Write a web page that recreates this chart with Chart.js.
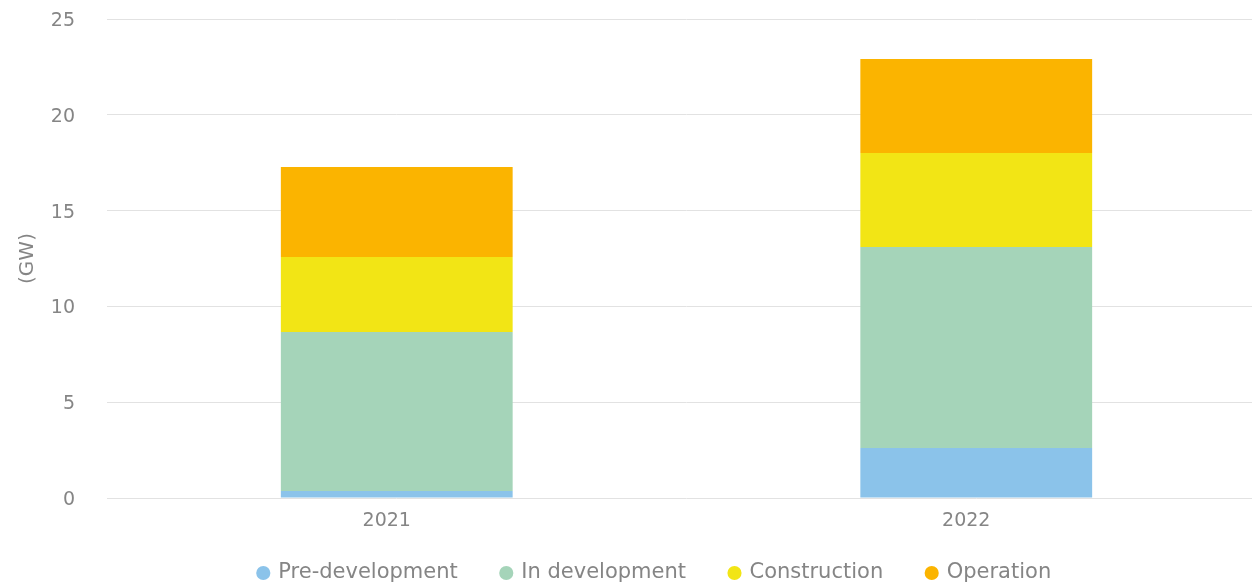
<!DOCTYPE html>
<html>
<head>
<meta charset="utf-8">
<script src="https://cdn.jsdelivr.net/npm/chart.js@4"></script>
<style>
  html, body { margin: 0; padding: 0; background: #fff; overflow: hidden; }
  #wrap { width: 1266px; height: 585px; }
</style>
</head>
<body>
<div id="wrap"><canvas id="g1"></canvas></div>
<script>
var years = ["2021", "2022"];
var preDevelopment = [0.37, 2.61];
var inDevelopment = [8.29, 10.49];
var construction = [3.92, 4.9];
var operation = [4.69, 4.91];

var grey = "#858585";
var fontFamily = "'DejaVu Sans', sans-serif";

// legend: wide gaps between items, but a short box sitting a bit higher
var legendFit = {
  id: 'legendFit',
  beforeInit: function(chart) {
    var fit = chart.legend.fit;
    chart.legend.fit = function() {
      fit.bind(chart.legend)();
      this.height = 51;
    };
  },
  afterLayout: function(chart) {
    chart.legend.left += 44;
    chart.legend.top -= 15.5;
  }
};

var g1 = document.getElementById("g1").getContext('2d');
var myG1 = new Chart(g1, {
  type: 'bar',
  data: {
    labels: years,
    datasets: [{
      label: 'Pre-development',
      data: preDevelopment,
      backgroundColor: "#8bc3ea"
    }, {
      label: 'In development',
      data: inDevelopment,
      backgroundColor: "#a5d4b9"
    }, {
      label: 'Construction',
      data: construction,
      backgroundColor: "#f2e515"
    }, {
      label: 'Operation',
      data: operation,
      backgroundColor: "#fbb400"
    }]
  },
  plugins: [legendFit],
  options: {
    responsive: true,
    maintainAspectRatio: false,
    animation: false,
    datasets: { bar: { categoryPercentage: 1, barPercentage: 0.4 } },
    layout: { padding: { top: 19, left: 0, bottom: 0 } },
    plugins: {
      tooltip: { enabled: false },
      legend: {
        position: 'bottom',
        labels: {
          usePointStyle: true,
          pointStyle: 'circle',
          boxWidth: 9,
          boxHeight: 10,
          padding: 44,
          color: grey,
          font: { family: fontFamily, size: 21 }
        }
      }
    },
    scales: {
      x: {
        stacked: true,
        grid: { display: false, drawTicks: false },
        border: { display: false },
        ticks: { color: grey, font: { family: fontFamily, size: 19 }, padding: 12, labelOffset: -10 },
        afterFit: function(scale) {
          scale.height = 36;
        }
      },
      y: {
        stacked: true,
        min: 0,
        max: 25,
        title: { display: true, text: '(GW)', color: grey, font: { family: fontFamily, size: 20 }, padding: { top: 16, bottom: 0 } },
        grid: { color: "#e2e2e2", drawTicks: false },
        border: { display: false },
        ticks: { stepSize: 5, color: grey, font: { family: fontFamily, size: 19 }, padding: 32, labelOffset: 2 },
        afterFit: function(scale) {
          scale.width = 107;
          scale.paddingTop = 0;
          scale.paddingBottom = 0;
        }
      }
    }
  }
});
</script>
</body>
</html>
